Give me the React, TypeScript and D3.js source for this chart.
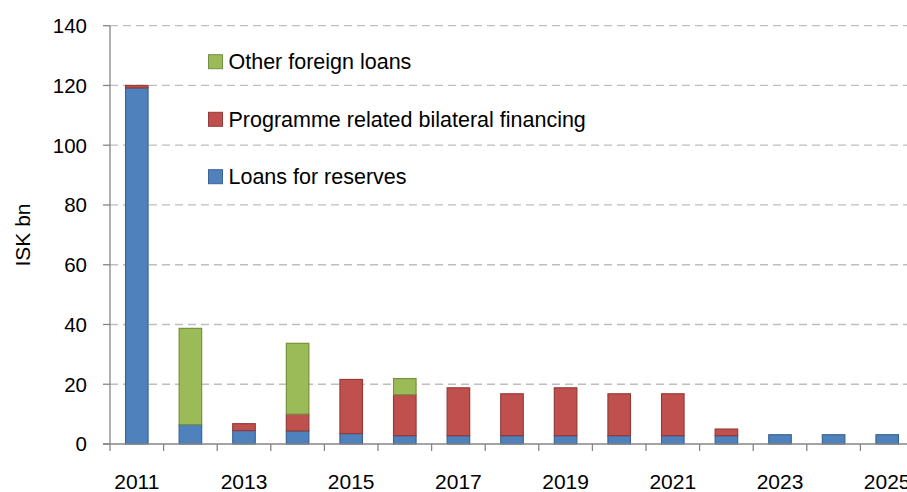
import React from "react";
import * as d3 from "d3";

const years = ["2011","2012","2013","2014","2015","2016","2017","2018","2019","2020","2021","2022","2023","2024","2025"];
const loansForReserves = [119.2, 6.5, 4.5, 4.4, 3.5, 2.8, 2.8, 2.8, 2.8, 2.8, 2.8, 2.8, 3.1, 3.1, 3.1];
const programmeBilateral = [0.8, 0, 2.3, 5.6, 18.1, 13.7, 16, 14, 16, 14, 14, 2.2, 0, 0, 0];
const otherForeign = [0, 32.2, 0, 23.7, 0, 5.4, 0, 0, 0, 0, 0, 0, 0, 0, 0];
const yTicks = [0, 20, 40, 60, 80, 100, 120, 140];
const xLabelYears = ["2011","2013","2015","2017","2019","2021","2023","2025"];

const seriesKeys = ["reserves", "programme", "other"];
const seriesNames = ["Loans for reserves", "Programme related bilateral financing", "Other foreign loans"];
const fills = ["#4F81BD", "#C0504D", "#9BBB59"];
const strokes = ["#3A6594", "#943B38", "#76923F"];

export default function App() {
  const W = 907, H = 492;
  const left = 110, top = 25.7, bottom = 444;
  const bandW = 53.6;
  const right = left + bandW * years.length;
  const font = "'Liberation Sans', Arial, sans-serif";

  const x = d3.scaleBand().domain(years).range([left, right]).paddingInner(0.58).paddingOuter(0.29);
  const y = d3.scaleLinear().domain([0, 140]).range([bottom, top]);

  const table = years.map((yr, i) => ({
    year: yr,
    reserves: loansForReserves[i],
    programme: programmeBilateral[i],
    other: otherForeign[i],
  }));
  const stacked = d3.stack<any>().keys(seriesKeys)(table);

  const bounds = d3.range(years.length + 1).map(i => left + i * bandW);
  const legendOrder = [2, 1, 0];
  const legendY = [61.7, 119.3, 176.7];

  return (
    <svg width={W} height={H} style={{ position: "absolute", left: 0, top: 0 }} fontFamily={font}>
      <rect x={0} y={0} width={W} height={H} fill="#fff" />
      {yTicks.filter(t => t > 0).map(t => (
        <line key={"g" + t} x1={left} x2={W} y1={y(t)} y2={y(t)} stroke="#BEBEBE" strokeWidth={1.3} strokeDasharray="8,5" />
      ))}
      {stacked.map((s, si) => (
        <g key={s.key}>
          {s.map((d, i) => d[1] - d[0] > 0 ? (
            <rect key={i} x={x(years[i])!} width={x.bandwidth()} y={y(d[1])} height={y(d[0]) - y(d[1])}
              fill={fills[si]} stroke={strokes[si]} strokeWidth={1.2} />
          ) : null)}
        </g>
      ))}
      <line x1={left} x2={left} y1={top} y2={bottom} stroke="#868686" strokeWidth={1.3} />
      <line x1={left - 7} x2={W} y1={bottom} y2={bottom} stroke="#868686" strokeWidth={1.3} />
      {yTicks.map(t => (
        <g key={"yt" + t}>
          <line x1={left - 7} x2={left} y1={y(t)} y2={y(t)} stroke="#868686" strokeWidth={1.3} />
          <text x={87} y={y(t)} dy="0.36em" textAnchor="end" fontSize={20.5} fill="#000">{t}</text>
        </g>
      ))}
      {bounds.map((b, i) => (
        <line key={"xt" + i} x1={b} x2={b} y1={bottom} y2={bottom + 7} stroke="#868686" strokeWidth={1.3} />
      ))}
      {xLabelYears.map(yr => (
        <text key={yr} x={x(yr)! + x.bandwidth() / 2} y={489} textAnchor="middle" fontSize={21} fill="#000">{yr}</text>
      ))}
      <text transform={`translate(30,235) rotate(-90)`} textAnchor="middle" fontSize={21} fill="#000">ISK bn</text>
      {legendOrder.map((si, k) => (
        <g key={"lg" + si}>
          <rect x={208.5} y={legendY[k] - 7} width={14} height={14} fill={fills[si]} stroke={strokes[si]} strokeWidth={1} />
          <text x={228.5} y={legendY[k]} dy="0.36em" fontSize={21.5} fill="#000">{seriesNames[si]}</text>
        </g>
      ))}
    </svg>
  );
}
